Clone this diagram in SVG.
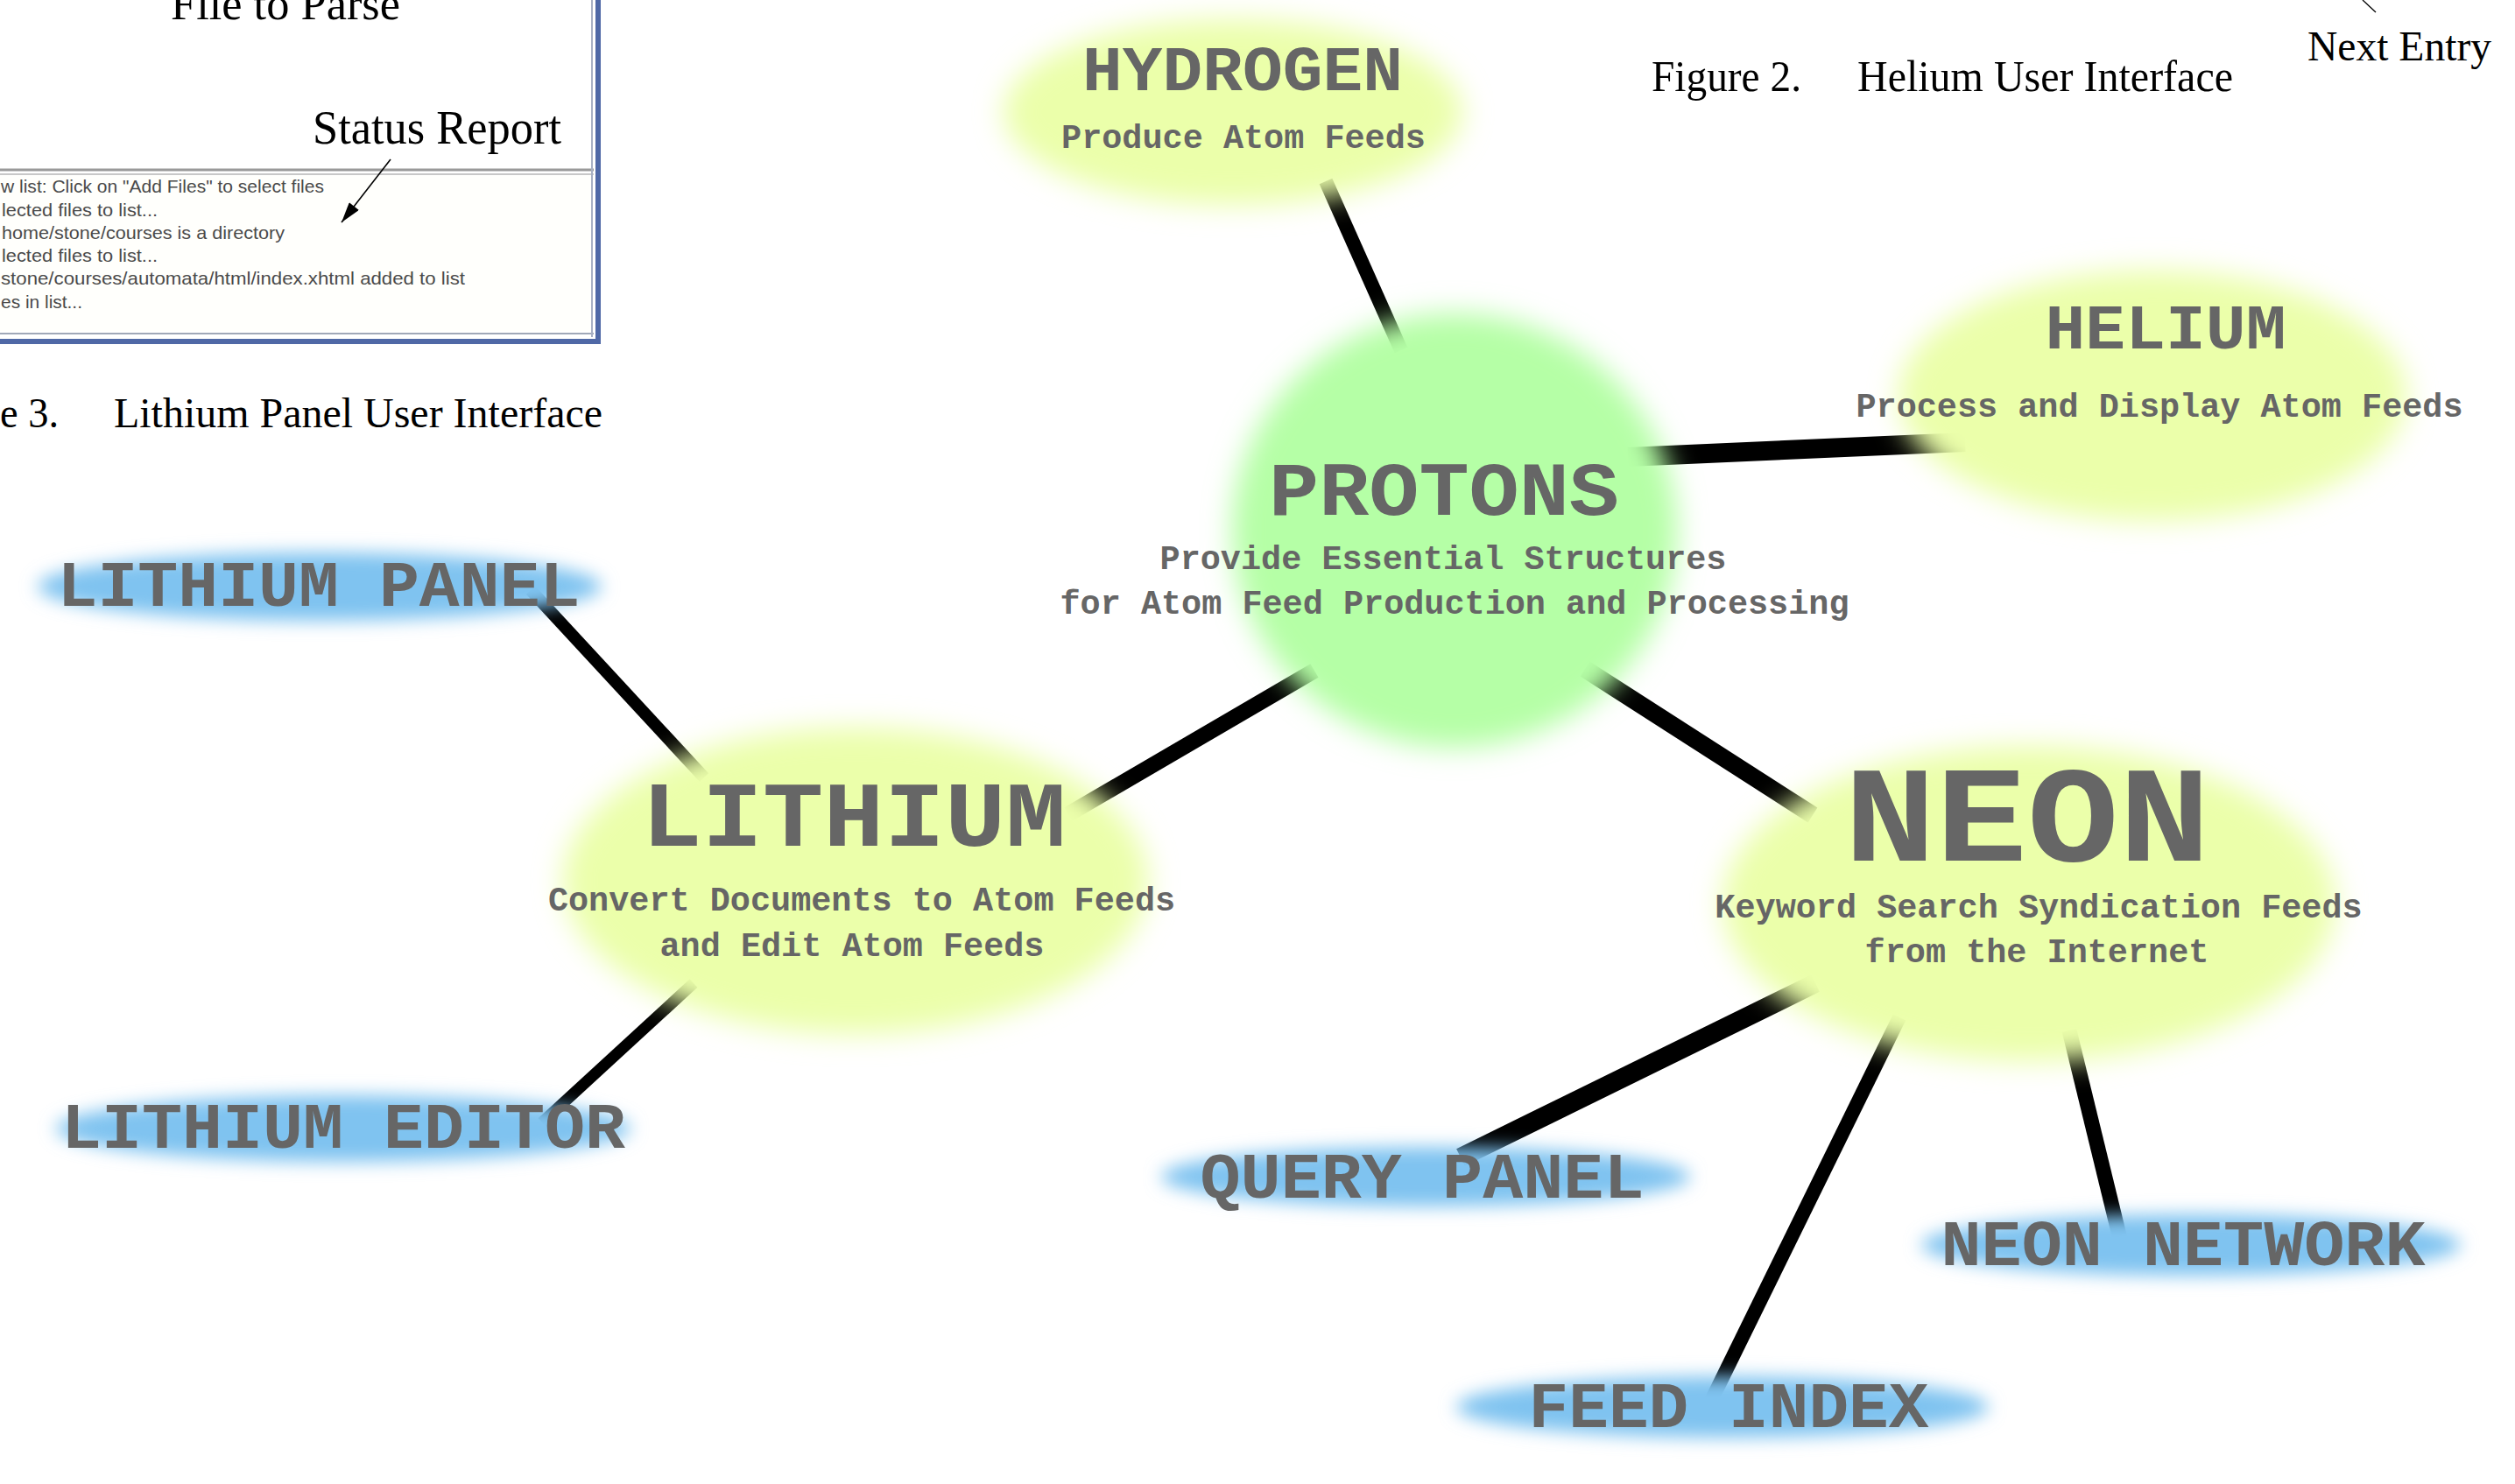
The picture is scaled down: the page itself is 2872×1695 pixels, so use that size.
<svg xmlns="http://www.w3.org/2000/svg" width="2872" height="1695" viewBox="0 0 2872 1695">
<defs>
<style>
.mono{font-family:"Courier New","Liberation Mono","DejaVu Sans Mono",monospace;font-weight:bold;fill:#666666;text-anchor:middle}
.sub{font-size:38.5px}
.serif{font-family:"Liberation Serif","Times New Roman",serif;fill:#000000}
.log{font-family:"Liberation Sans",Arial,sans-serif;font-size:21px;fill:#4a4a4a}
.conn line{stroke:#000000;fill:none;stroke-linecap:butt}
.yel{fill:#ebffaa}
.grn{fill:#b5ffa6}
.blu{fill:#7fc3f0}
</style>
<filter id="blurL" x="-30%" y="-40%" width="160%" height="180%"><feGaussianBlur stdDeviation="16"/></filter>
<filter id="blurS" x="-20%" y="-150%" width="140%" height="400%"><feGaussianBlur stdDeviation="10"/></filter>
<marker id="arr" viewBox="0 0 10 6" refX="10" refY="3" markerWidth="26" markerHeight="14" markerUnits="userSpaceOnUse" orient="auto"><path d="M0,0 L10,3 L0,6 z" fill="#000"/></marker>
</defs>
<rect x="0" y="0" width="2872" height="1695" fill="#ffffff"/>

<g id="screenshot">
<rect x="0" y="0" width="680" height="392" fill="#ffffff"/>
<rect x="0" y="200" width="676" height="178" fill="#fffffc"/>
<line x1="0" y1="194" x2="678" y2="194" stroke="#9a9a9a" stroke-width="3"/>
<line x1="0" y1="199" x2="678" y2="199" stroke="#c8c8c8" stroke-width="2"/>
<line x1="0" y1="381" x2="678" y2="381" stroke="#a0a8b8" stroke-width="2"/>
<line x1="0" y1="390" x2="686" y2="390" stroke="#4f68a6" stroke-width="6"/>
<line x1="676" y1="0" x2="676" y2="385" stroke="#a8b0c4" stroke-width="2"/>
<line x1="683" y1="0" x2="683" y2="393" stroke="#4f68a6" stroke-width="6"/>
<text class="serif" x="326" y="22" font-size="52" text-anchor="middle" textLength="262" lengthAdjust="spacingAndGlyphs">File to Parse</text>
<text class="serif" x="357" y="164" font-size="54" textLength="284" lengthAdjust="spacingAndGlyphs">Status Report</text>
<line x1="446" y1="182" x2="390" y2="254" stroke="#000" stroke-width="1.6" marker-end="url(#arr)"/>
<text class="log" x="1" y="220" textLength="369" lengthAdjust="spacingAndGlyphs">w list: Click on "Add Files" to select files</text>
<text class="log" x="2" y="247" textLength="178" lengthAdjust="spacingAndGlyphs">lected files to list...</text>
<text class="log" x="2" y="273" textLength="323" lengthAdjust="spacingAndGlyphs">home/stone/courses is a directory</text>
<text class="log" x="2" y="299" textLength="178" lengthAdjust="spacingAndGlyphs">lected files to list...</text>
<text class="log" x="1" y="325" textLength="530" lengthAdjust="spacingAndGlyphs">stone/courses/automata/html/index.xhtml added to list</text>
<text class="log" x="1" y="352" textLength="93" lengthAdjust="spacingAndGlyphs">es in list...</text>
<text class="serif" x="0" y="488" font-size="48" textLength="67" lengthAdjust="spacingAndGlyphs">e 3.</text>
<text class="serif" x="130" y="488" font-size="48" textLength="558" lengthAdjust="spacingAndGlyphs">Lithium Panel User Interface</text>
</g>

<g id="captions">
<text class="serif" x="1886" y="104" font-size="50" textLength="171" lengthAdjust="spacingAndGlyphs">Figure 2.</text>
<text class="serif" x="2121" y="104" font-size="50" textLength="429" lengthAdjust="spacingAndGlyphs">Helium User Interface</text>
<line x1="2698" y1="0" x2="2713" y2="14" stroke="#000" stroke-width="1.3"/>
<text class="serif" x="2635" y="69" font-size="48" textLength="210" lengthAdjust="spacingAndGlyphs">Next Entry</text>
</g>

<g id="connectors" class="conn">
<line x1="1514" y1="207" x2="1600" y2="400" stroke-width="16"/>
<line x1="1859" y1="522" x2="2244" y2="505" stroke-width="22"/>
<line x1="1501" y1="766" x2="1220" y2="930" stroke-width="18"/>
<line x1="1810" y1="764" x2="2070" y2="931" stroke-width="20"/>
<line x1="606" y1="674" x2="804" y2="888" stroke-width="14"/>
<line x1="792" y1="1123" x2="619" y2="1282" stroke-width="13"/>
<line x1="2073" y1="1123" x2="1668" y2="1322" stroke-width="22"/>
<line x1="2169" y1="1162" x2="1954" y2="1600" stroke-width="16"/>
<line x1="2363" y1="1177" x2="2421" y2="1415" stroke-width="17"/>
</g>

<g id="hydrogen">
<ellipse class="yel" cx="1408" cy="128" rx="262" ry="106" filter="url(#blurL)"/>
<text class="mono" x="1419" y="103" font-size="72" textLength="366" lengthAdjust="spacingAndGlyphs">HYDROGEN</text>
<text class="mono sub" x="1420" y="169">Produce Atom Feeds</text>
</g>

<g id="protons">
<ellipse class="grn" cx="1661" cy="606" rx="254" ry="248" filter="url(#blurL)"/>
<text class="mono" x="1649" y="588" font-size="88" textLength="400" lengthAdjust="spacingAndGlyphs">PROTONS</text>
<text class="mono sub" x="1648" y="650">Provide Essential Structures</text>
<text class="mono sub" x="1661" y="701">for Atom Feed Production and Processing</text>
</g>

<g id="helium">
<ellipse class="yel" cx="2458" cy="452" rx="290" ry="143" filter="url(#blurL)"/>
<text class="mono" x="2473" y="398" font-size="72" textLength="275" lengthAdjust="spacingAndGlyphs">HELIUM</text>
<text class="mono sub" x="2466" y="476">Process and Display Atom Feeds</text>
</g>

<g id="lithium">
<ellipse class="yel" cx="977" cy="1006" rx="334" ry="175" filter="url(#blurL)"/>
<text class="mono" x="975" y="966" font-size="106" textLength="485" lengthAdjust="spacingAndGlyphs">LITHIUM</text>
<text class="mono sub" x="984" y="1040">Convert Documents to Atom Feeds</text>
<text class="mono sub" x="973" y="1092">and Edit Atom Feeds</text>
</g>

<g id="neon">
<ellipse class="yel" cx="2317" cy="1032" rx="350" ry="180" filter="url(#blurL)"/>
<text class="mono" x="2315" y="983" font-size="156" textLength="418" lengthAdjust="spacingAndGlyphs">NEON</text>
<text class="mono sub" x="2328" y="1048">Keyword Search Syndication Feeds</text>
<text class="mono sub" x="2326" y="1099">from the Internet</text>
</g>

<g id="lithium-panel">
<ellipse class="blu" cx="365" cy="670" rx="322" ry="39" filter="url(#blurS)"/>
<text class="mono" x="364" y="692" font-size="74" textLength="597" lengthAdjust="spacingAndGlyphs">LITHIUM PANEL</text>
</g>

<g id="lithium-editor">
<ellipse class="blu" cx="392" cy="1289" rx="328" ry="38" filter="url(#blurS)"/>
<text class="mono" x="392" y="1311" font-size="74" textLength="644" lengthAdjust="spacingAndGlyphs">LITHIUM EDITOR</text>
</g>

<g id="query-panel">
<ellipse class="blu" cx="1628" cy="1344" rx="302" ry="34" filter="url(#blurS)"/>
<text class="mono" x="1624" y="1368" font-size="74" textLength="507" lengthAdjust="spacingAndGlyphs">QUERY PANEL</text>
</g>

<g id="neon-network">
<ellipse class="blu" cx="2502" cy="1422" rx="308" ry="35" filter="url(#blurS)"/>
<text class="mono" x="2493" y="1445" font-size="74" textLength="553" lengthAdjust="spacingAndGlyphs">NEON NETWORK</text>
</g>

<g id="feed-index">
<ellipse class="blu" cx="1967" cy="1607" rx="304" ry="35" filter="url(#blurS)"/>
<text class="mono" x="1974" y="1630" font-size="74" textLength="457" lengthAdjust="spacingAndGlyphs">FEED INDEX</text>
</g>
</svg>
